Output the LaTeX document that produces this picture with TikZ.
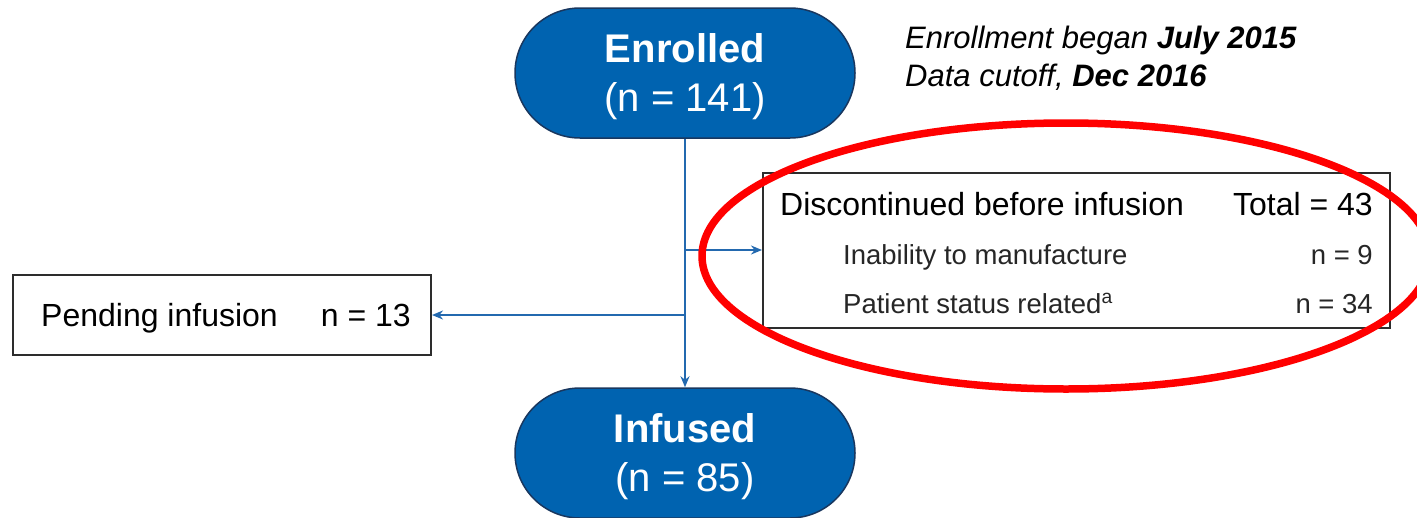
\documentclass[tikz,border=0pt]{standalone}
\usepackage{fontspec}
\setmainfont{Liberation Sans}
\usetikzlibrary{shapes.misc,arrows.meta}
\definecolor{stadblue}{RGB}{0,99,176}
\definecolor{stadedge}{RGB}{25,55,95}
\definecolor{linkblue}{RGB}{35,105,175}
\definecolor{boxedge}{RGB}{45,45,45}
\tikzset{
  stad/.style={rounded rectangle, fill=stadblue, draw=stadedge, line width=1.5pt,
    minimum width=340pt, minimum height=130pt, text=white, align=center, inner sep=0pt,
    font=\fontsize{40}{49}\selectfont},
  infobox/.style={draw=boxedge, line width=2pt, fill=white, inner sep=0pt},
  link/.style={draw=linkblue, line width=2.3pt, -{Stealth[length=11pt,width=9pt]}},
  bigtxt/.style={font=\fontsize{32}{38}\selectfont, inner sep=0pt, text=black},
  smalltxt/.style={font=\fontsize{27.5}{33}\selectfont, inner sep=0pt, text=black!85},
  notetxt/.style={font=\fontsize{31}{37}\selectfont\itshape, inner sep=0pt, text=black}
}
\begin{document}
\begin{tikzpicture}[x=1pt,y=-1pt]
\useasboundingbox (0,0) rectangle (1417,517);
% stadiums
\node[stad] (enr) at (685,73) {\rule{0pt}{37pt}{\bfseries Enrolled}\\(n = 141)};
\node[stad] (inf) at (685,453) {\rule{0pt}{37pt}{\bfseries Infused}\\(n = 85)};
% boxes
\node[infobox, minimum width=627pt, minimum height=155pt] (disc) at (1076.5,250) {};
\node[infobox, minimum width=418pt, minimum height=80pt] (pend) at (222,315) {};
% texts in discontinued box
\node[bigtxt, anchor=base west] (d1) at (780,215) {Discontinued before infusion};
\node[bigtxt, anchor=base east] (d1n) at (1373,215) {Total = 43};
\node[smalltxt, anchor=base west] (d2) at (843,264) {Inability to manufacture};
\node[smalltxt, anchor=base east] (d2n) at (1373,264) {n = 9};
\node[smalltxt, anchor=base west] (d3) at (843,313) {Patient status related\textsuperscript{a}};
\node[smalltxt, anchor=base east] (d3n) at (1373,313) {n = 34};
% pending text
\node[bigtxt, anchor=base west] (p1) at (41,326) {Pending infusion};
\node[bigtxt, anchor=base east] (p1n) at (411,326) {n = 13};
% note
\node[notetxt, anchor=base west] (n1) at (905,48) {Enrollment began \textbf{July 2015}};
\node[notetxt, anchor=base west] (n2) at (905,86) {Data cutoff, \textbf{Dec 2016}};
% connectors
\coordinate (jd) at (enr.south |- disc.west);
\coordinate (jp) at (enr.south |- pend.east);
\draw[link] (enr.south) -- (inf.north);
\draw[link] (jd) -- (disc.west);
\draw[link] (jp) -- (pend.east);
% red highlight ellipse
\draw[red, line width=7.5pt] (1066,256) ellipse [x radius=364pt, y radius=133pt];
\end{tikzpicture}
\end{document}
